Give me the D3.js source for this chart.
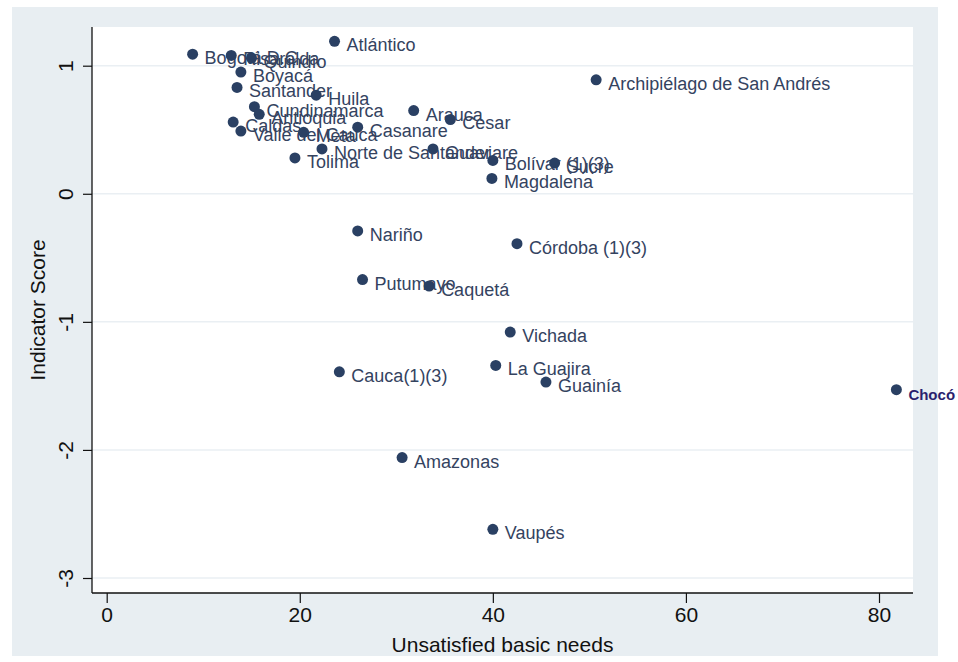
<!DOCTYPE html>
<html>
<head>
<meta charset="utf-8">
<script src="https://cdn.jsdelivr.net/npm/d3@7"></script>
<style>
  html, body { margin: 0; padding: 0; background: #ffffff; }
  svg { display: block; font-family: "Liberation Sans", Arial, Helvetica, sans-serif; }
</style>
</head>
<body>
<svg id="chart" width="958" height="662"></svg>
<script>
// Departments of Colombia: unsatisfied basic needs (%) vs. indicator score
const departments = [
  "Bogotá D.C.", "Risaralda", "Quindío", "Atlántico", "Boyacá", "Santander",
  "Huila", "Cundinamarca", "Antioquia", "Caldas", "Valle del Cauca", "Meta",
  "Casanare", "Arauca", "Cesar", "Norte de Santander", "Tolima", "Guaviare",
  "Bolívar (1)(3)", "Sucre", "Magdalena", "Archipiélago de San Andrés",
  "Nariño", "Putumayo", "Caquetá", "Córdoba (1)(3)", "Vichada", "La Guajira",
  "Guainía", "Cauca(1)(3)", "Amazonas", "Vaupés", "Chocó"
];
const unsatisfiedNeeds = [
  8.9, 12.9, 15.0, 23.6, 13.9, 13.5,
  21.7, 15.3, 15.8, 13.1, 13.9, 20.4,
  26.0, 31.8, 35.6, 22.3, 19.5, 33.8,
  40.0, 46.4, 39.9, 50.7,
  26.0, 26.5, 33.4, 42.5, 41.8, 40.3,
  45.5, 24.1, 30.6, 40.0, 81.8
];
const indicatorScore = [
  1.09, 1.08, 1.06, 1.19, 0.95, 0.83,
  0.77, 0.68, 0.62, 0.56, 0.49, 0.48,
  0.52, 0.65, 0.58, 0.35, 0.28, 0.35,
  0.26, 0.24, 0.12, 0.89,
  -0.29, -0.67, -0.72, -0.39, -1.08, -1.34,
  -1.47, -1.39, -2.06, -2.62, -1.53
];
const xTicks = [0, 20, 40, 60, 80];
const yTicks = [1, 0, -1, -2, -3];

const svg = d3.select("#chart");
const W = 958, H = 662;

// plot region (pixels)
const plot = { left: 92, right: 913, top: 27, bottom: 593 };

const x = d3.scaleLinear().domain([0, 80]).range([106.7, 879]);
const y = d3.scaleLinear().domain([1, -3]).range([65.7, 578]);

// graph region background
svg.append("rect").attr("x", 12).attr("y", 7).attr("width", 926).attr("height", 649)
  .attr("fill", "#e8eef2");
// plot region
svg.append("rect").attr("x", plot.left).attr("y", plot.top)
  .attr("width", plot.right - plot.left).attr("height", plot.bottom - plot.top)
  .attr("fill", "#ffffff");

// horizontal grid lines
svg.append("g").selectAll("line").data(yTicks).join("line")
  .attr("x1", plot.left).attr("x2", plot.right)
  .attr("y1", d => y(d)).attr("y2", d => y(d))
  .attr("stroke", "#eaeff3").attr("stroke-width", 1.5);

// x axis
const xAxis = svg.append("g")
  .attr("transform", `translate(0,${plot.bottom})`)
  .call(d3.axisBottom(x).tickValues(xTicks).tickSize(10).tickPadding(4).tickFormat(d3.format("d")));
xAxis.select(".domain").remove();
xAxis.selectAll(".tick line").attr("stroke", "#111").attr("stroke-width", 1.2);
xAxis.selectAll(".tick text").attr("font-size", 21).attr("fill", "#111")
  .attr("font-family", "Liberation Sans, Arial, sans-serif");
svg.append("line").attr("x1", plot.left).attr("x2", plot.right)
  .attr("y1", plot.bottom).attr("y2", plot.bottom).attr("stroke", "#111").attr("stroke-width", 1.3);

// y axis
const yAxis = svg.append("g")
  .attr("transform", `translate(${plot.left},0)`)
  .call(d3.axisLeft(y).tickValues(yTicks).tickSize(9).tickFormat(d3.format("d")));
yAxis.select(".domain").remove();
yAxis.selectAll(".tick line").attr("stroke", "#111").attr("stroke-width", 1.2);
yAxis.selectAll(".tick text")
  .attr("font-size", 21).attr("fill", "#111")
  .attr("font-family", "Liberation Sans, Arial, sans-serif")
  .attr("x", 0).attr("y", -19).attr("dy", 0)
  .attr("text-anchor", "middle")
  .attr("transform", "rotate(-90)")
  .text(d => d3.format("d")(d).replace("−", "-"));
svg.append("line").attr("x1", plot.left).attr("x2", plot.left)
  .attr("y1", plot.top).attr("y2", plot.bottom).attr("stroke", "#111").attr("stroke-width", 1.3);

// axis titles
svg.append("text").attr("x", (plot.left + plot.right) / 2).attr("y", 652)
  .attr("text-anchor", "middle").attr("font-size", 21).attr("fill", "#111")
  .text("Unsatisfied basic needs");
svg.append("text").attr("transform", `translate(45,${(plot.top + plot.bottom) / 2}) rotate(-90)`)
  .attr("text-anchor", "middle").attr("font-size", 21).attr("fill", "#111")
  .text("Indicator Score");

// points and labels
const points = departments.map((name, i) => ({ name, nbi: unsatisfiedNeeds[i], score: indicatorScore[i] }));
const marks = svg.append("g");
points.forEach(p => {
  const last = p.name === "Chocó";
  marks.append("circle")
    .attr("cx", x(p.nbi)).attr("cy", y(p.score)).attr("r", 5.5)
    .attr("fill", "#2a4063");
  marks.append("text")
    .attr("x", x(p.nbi) + 12).attr("y", y(p.score) + 10)
    .attr("font-size", last ? 15 : 18)
    .attr("font-weight", last ? "bold" : "normal")
    .attr("fill", last ? "#2b1f6e" : "#34435f")
    .text(p.name);
});
</script>
</body>
</html>
